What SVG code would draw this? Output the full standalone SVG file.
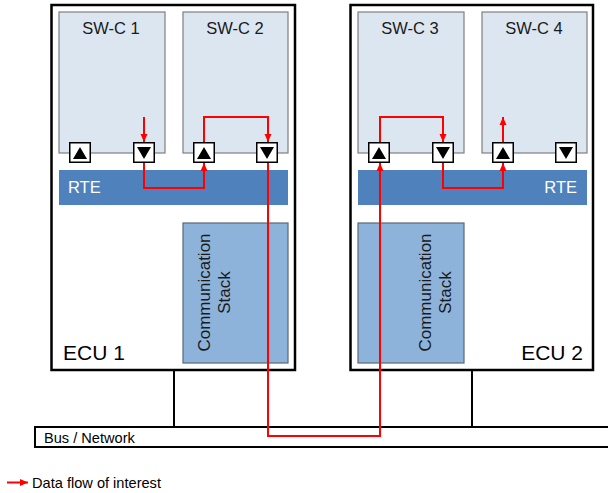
<svg xmlns="http://www.w3.org/2000/svg" width="608" height="493" viewBox="0 0 608 493">
<defs>
<style>
.ecu{fill:#ffffff;stroke:#000000;stroke-width:2.5}
.swc{fill:#dce6f1;stroke:#7f7f7f;stroke-width:1.2}
.rte{fill:#4f81bd}
.cs{fill:#8db3db;stroke:#5a6775;stroke-width:1.2}
.port{fill:#ffffff;stroke:#000000;stroke-width:1.5}
.tri{fill:#000000}
.t{font-family:"Liberation Sans",Arial,sans-serif;fill:#1a1a1a}
.lbl{font-size:16.5px}
.rtet{font-size:16.5px;fill:#ffffff}
.ecut{font-size:21px;fill:#000000}
.cst{font-size:17px;fill:#1a1a1a}
.small{font-size:14.6px;fill:#000000}
.flow{fill:none;stroke:#ff0000;stroke-width:2}
.wire{fill:none;stroke:#000000;stroke-width:2}
</style>
<marker id="ah" markerUnits="userSpaceOnUse" markerWidth="8" markerHeight="8" viewBox="0 0 8 8" refX="8" refY="4" orient="auto">
<path d="M0,0.5 L8,4 L0,7.5 Z" fill="#ff0000"/>
</marker>
<symbol id="up" viewBox="0 0 22 21"><rect class="port" x="0.75" y="0.75" width="20.5" height="19.5"/><path class="tri" d="M4,17 L18,17 L11,5 Z"/></symbol>
<symbol id="down" viewBox="0 0 22 21"><rect class="port" x="0.75" y="0.75" width="20.5" height="19.5"/><path class="tri" d="M4,5 L18,5 L11,17 Z"/></symbol>
</defs>
<rect width="608" height="493" fill="#ffffff"/>

<g id="bus">
<rect x="35" y="427" width="580" height="20" fill="#ffffff" stroke="#000000" stroke-width="2"/>
<text class="t small" x="44" y="442.5">Bus / Network</text>
</g>

<g id="ecu1">
<rect class="ecu" x="51.5" y="5" width="243.5" height="365"/>
<text class="t ecut" x="63" y="360">ECU 1</text>
</g>
<g id="ecu2">
<rect class="ecu" x="350.5" y="5" width="242.5" height="365"/>
<text class="t ecut" x="583" y="360" text-anchor="end">ECU 2</text>
</g>

<g id="swc1">
<rect class="swc" x="59" y="12" width="106" height="141"/>
<text class="t lbl" x="111" y="34" text-anchor="middle">SW-C 1</text>
</g>
<g id="swc2">
<rect class="swc" x="183" y="12" width="105" height="141"/>
<text class="t lbl" x="235" y="34" text-anchor="middle">SW-C 2</text>
</g>
<g id="swc3">
<rect class="swc" x="358" y="12" width="106" height="141"/>
<text class="t lbl" x="410" y="34" text-anchor="middle">SW-C 3</text>
</g>
<g id="swc4">
<rect class="swc" x="482" y="12" width="105" height="141"/>
<text class="t lbl" x="534" y="34" text-anchor="middle">SW-C 4</text>
</g>

<g id="rte1">
<rect class="rte" x="59" y="170" width="229" height="35"/>
<text class="t rtet" x="68" y="193">RTE</text>
</g>
<g id="rte2">
<rect class="rte" x="358" y="170" width="229" height="35"/>
<text class="t rtet" x="577" y="193" text-anchor="end">RTE</text>
</g>

<g id="comstack1">
<rect class="cs" x="183" y="223" width="105" height="140"/>
<g transform="translate(210,292.5) rotate(-90)">
<text class="t cst" text-anchor="middle"><tspan x="0" y="0">Communication</tspan><tspan x="0" y="20">Stack</tspan></text>
</g>
</g>
<g id="comstack2">
<rect class="cs" x="358" y="223" width="106" height="140"/>
<g transform="translate(431,292.5) rotate(-90)">
<text class="t cst" text-anchor="middle"><tspan x="0" y="0">Communication</tspan><tspan x="0" y="20">Stack</tspan></text>
</g>
</g>

<g id="ports">
<use href="#up" x="69" y="142" width="22" height="21"/>
<use href="#down" x="133" y="142" width="22" height="21"/>
<use href="#up" x="193" y="142" width="22" height="21"/>
<use href="#down" x="256" y="142" width="22" height="21"/>
<use href="#up" x="368" y="142" width="22" height="21"/>
<use href="#down" x="432" y="142" width="22" height="21"/>
<use href="#up" x="492" y="142" width="22" height="21"/>
<use href="#down" x="555" y="142" width="22" height="21"/>
</g>

<g id="connectors">
<path class="wire" d="M174,370 V427"/>
<path class="wire" d="M472,370 V427"/>
<path class="flow" d="M144,117 V142" marker-end="url(#ah)"/>
<path class="flow" d="M144,163 V188 H204 V163" marker-end="url(#ah)"/>
<path class="flow" d="M204,142 V117 H268 V142" marker-end="url(#ah)"/>
<path class="flow" d="M268,163 V436 H380 V163" marker-end="url(#ah)"/>
<path class="flow" d="M380,142 V117 H443 V142" marker-end="url(#ah)"/>
<path class="flow" d="M443,163 V188 H503 V163" marker-end="url(#ah)"/>
<path class="flow" d="M503,142 V117" marker-end="url(#ah)"/>
</g>

<g id="legend">
<path class="flow" d="M7,482.5 H28" marker-end="url(#ah)"/>
<text class="t small" x="32" y="488">Data flow of interest</text>
</g>
</svg>
